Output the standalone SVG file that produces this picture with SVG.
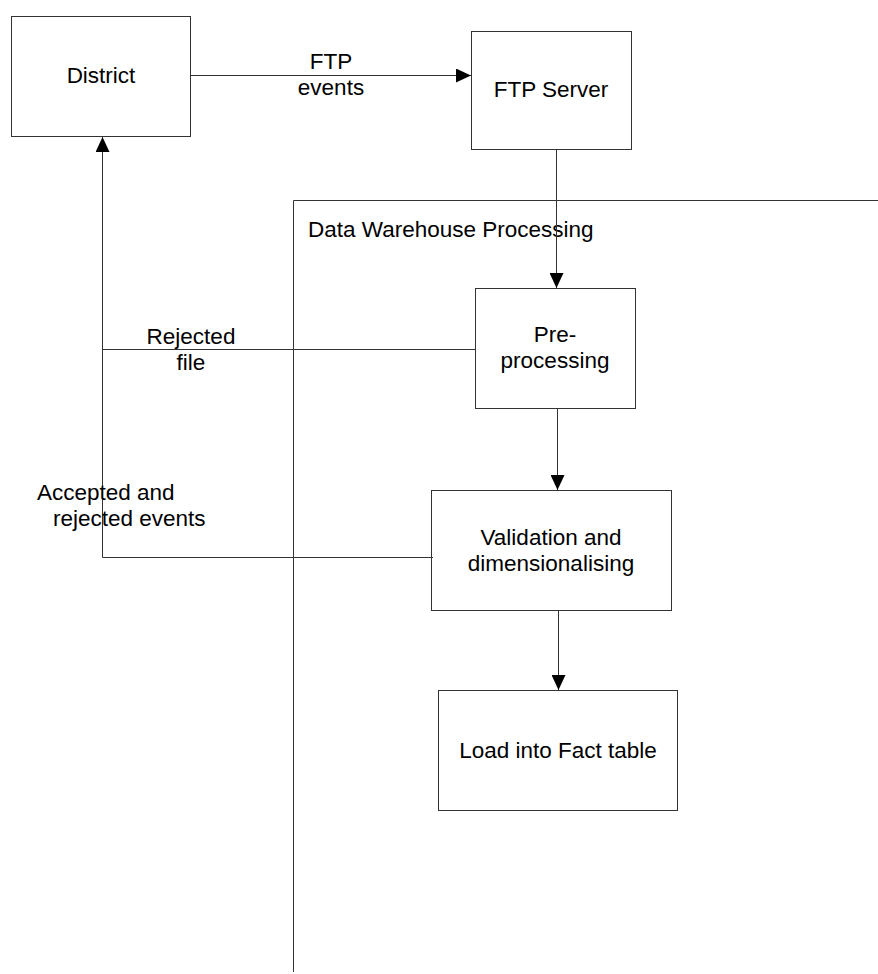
<svg xmlns="http://www.w3.org/2000/svg" width="878" height="974" viewBox="0 0 878 974">
<style>
.box{fill:#fff;stroke:#333;stroke-width:1}
.ln{fill:none;stroke:#333;stroke-width:1}
text{font-family:"Liberation Sans",Arial,sans-serif;font-size:22.5px;fill:#000}
.c{text-anchor:middle}
</style>
<defs>
<marker id="ah" markerUnits="userSpaceOnUse" markerWidth="16" markerHeight="14" refX="15" refY="7" orient="auto">
<path d="M0,0 L15,7 L0,14 z" fill="#000"/>
</marker>
</defs>
<g id="container">
<path class="ln" d="M293.5,972 V200.5 H878"/>
<text x="308" y="237">Data Warehouse Processing</text>
</g>
<g id="district">
<rect class="box" x="11.5" y="16.5" width="179" height="120"/>
<text class="c" x="101" y="83">District</text>
</g>
<g id="ftp-server">
<rect class="box" x="471.5" y="31.5" width="160" height="118"/>
<text class="c" x="551" y="97">FTP Server</text>
</g>
<g id="pre-processing">
<rect class="box" x="475.5" y="288.5" width="160" height="120"/>
<text class="c" x="555" y="342">Pre-</text>
<text class="c" x="555" y="368">processing</text>
</g>
<g id="validation">
<rect class="box" x="431.5" y="490.5" width="240" height="120"/>
<text class="c" x="551" y="545">Validation and</text>
<text class="c" x="551" y="571">dimensionalising</text>
</g>
<g id="load">
<rect class="box" x="438.5" y="690.5" width="239" height="120"/>
<text class="c" x="558" y="758">Load into Fact table</text>
</g>
<g id="connectors">
<line class="ln" x1="190.5" y1="75.5" x2="471" y2="75.5" marker-end="url(#ah)"/>
<text class="c" x="331" y="69">FTP</text>
<text class="c" x="331" y="95">events</text>
<line class="ln" x1="556.5" y1="150" x2="556.5" y2="288" marker-end="url(#ah)"/>
<line class="ln" x1="557.5" y1="409" x2="557.5" y2="490" marker-end="url(#ah)"/>
<line class="ln" x1="558.5" y1="611" x2="558.5" y2="690" marker-end="url(#ah)"/>
<path class="ln" d="M475,349.5 H102.5"/>
<path class="ln" d="M433,557.5 H102.5 V137" marker-end="url(#ah)"/>
<text class="c" x="191" y="344">Rejected</text>
<text class="c" x="191" y="370">file</text>
<text x="37" y="500">Accepted and</text>
<text x="53" y="526">rejected events</text>
</g>
</svg>
